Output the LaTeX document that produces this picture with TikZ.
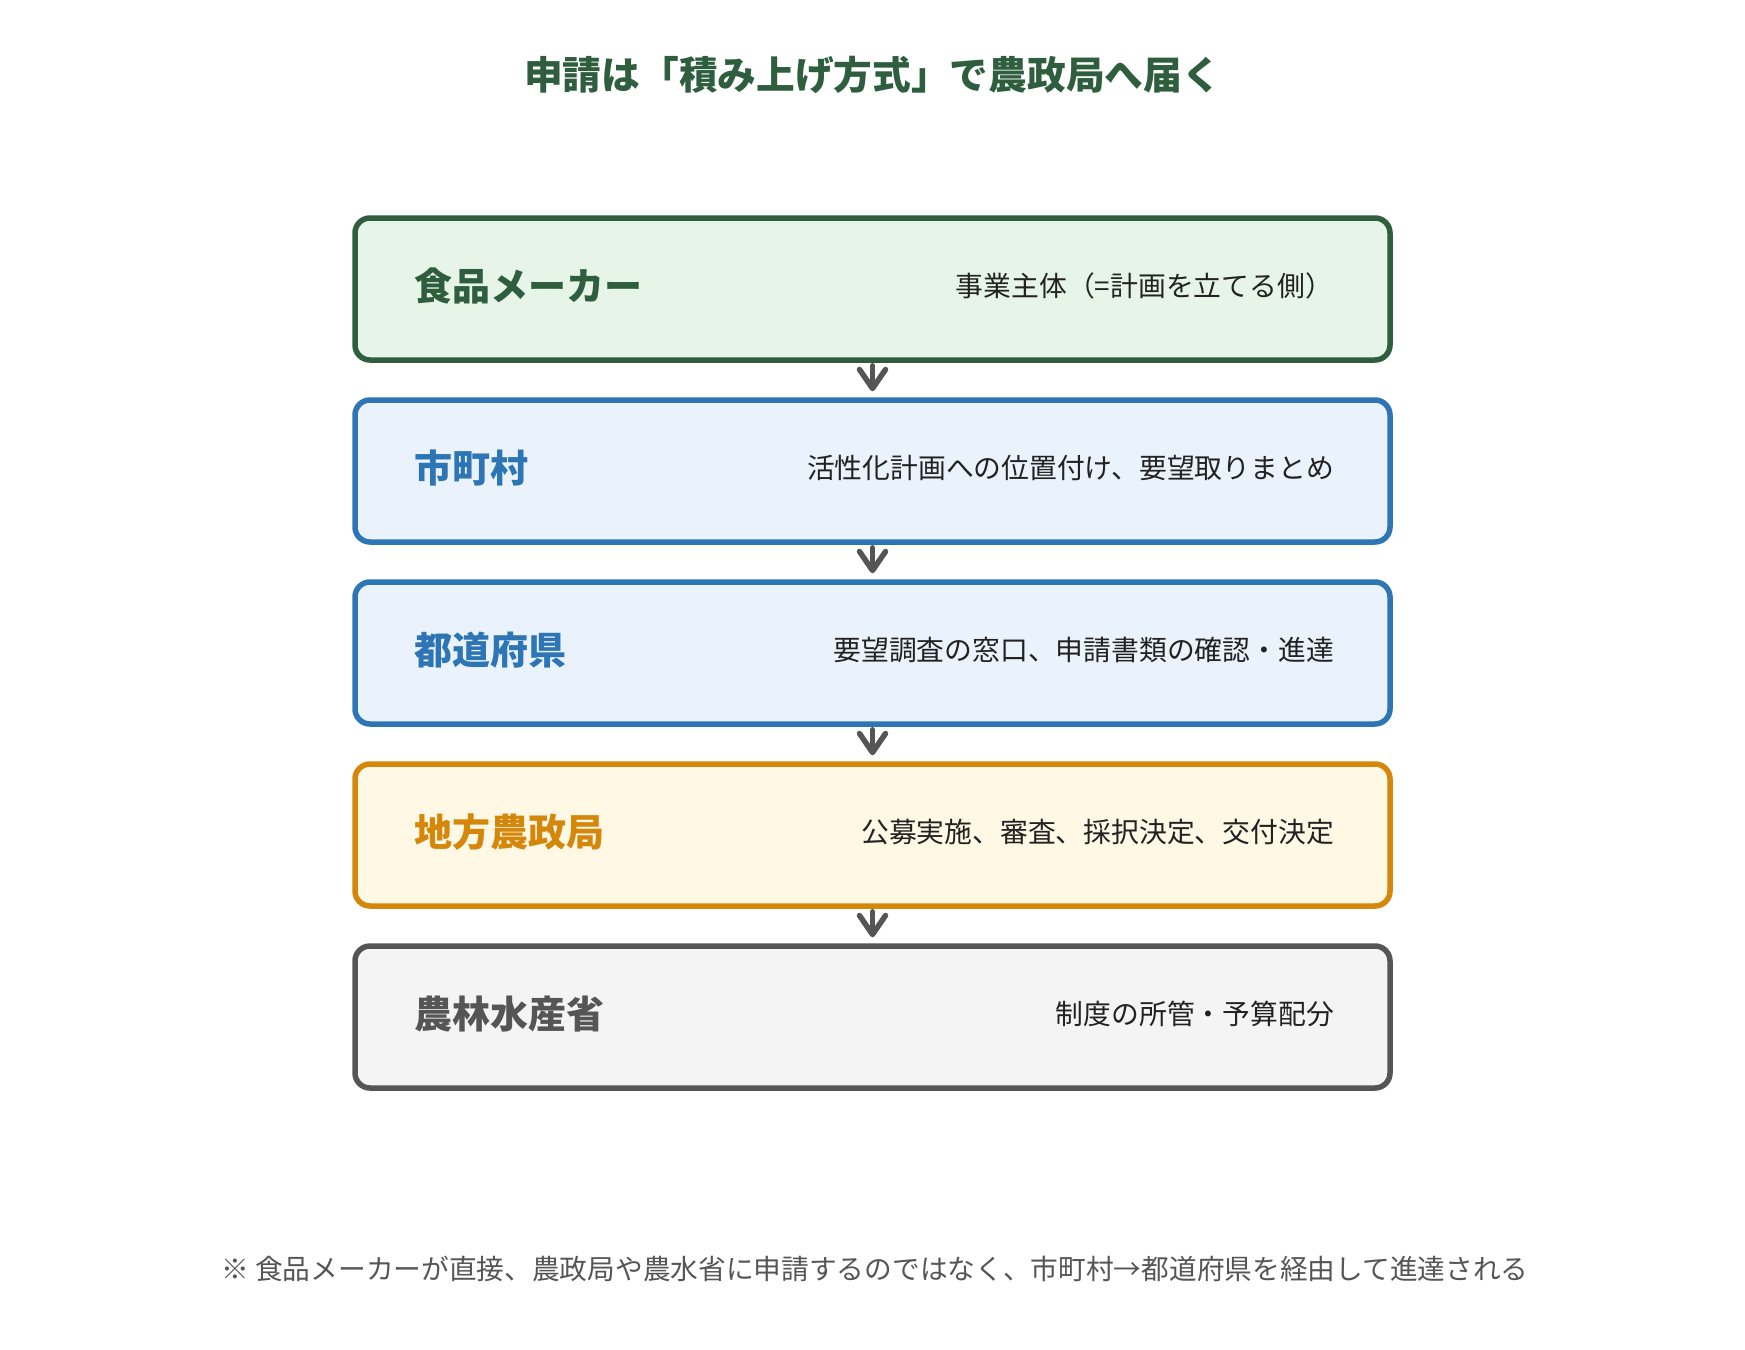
\documentclass[tikz,border=0pt]{standalone}
\usepackage{fontspec}
\setmainfont{Noto Sans CJK JP}
\usetikzlibrary{arrows.meta}
\definecolor{grn}{HTML}{2E5E3E}
\definecolor{grnfill}{HTML}{E7F5E8}
\definecolor{blu}{HTML}{2E75B6}
\definecolor{blufill}{HTML}{EAF3FB}
\definecolor{org}{HTML}{D4870A}
\definecolor{orgfill}{HTML}{FEF8E4}
\definecolor{gry}{HTML}{555555}
\definecolor{gryfill}{HTML}{F4F4F4}
\definecolor{txt}{HTML}{222222}
\begin{document}
\begin{tikzpicture}[x=1pt,y=-1pt]
\useasboundingbox (0,0) rectangle (1745,1349);
\tikzset{
 stage/.style={draw, rounded corners=15pt, line width=5.5pt, minimum width=1035pt, minimum height=142pt, inner sep=0pt},
 lab/.style={anchor=west, inner sep=0pt, font=\fontsize{38}{40}\selectfont\bfseries},
 desc/.style={anchor=east, inner sep=0pt, font=\fontsize{27.8}{30}\selectfont, text=txt},
 flow/.style={draw=gry, line width=5.5pt, line cap=round, line join=round, -{Straight Barb[length=19pt,width=26pt,round]}, shorten <=3pt, shorten >=6pt}
}
\node[font=\fontsize{38.7}{42}\selectfont\bfseries, text=grn] (title) at (872.5,75) {申請は「積み上げ方式」で農政局へ届く};

\node[stage, draw=grn, fill=grnfill] (b1) at (872.5,289) {};
\node[stage, draw=blu, fill=blufill] (b2) at (872.5,471) {};
\node[stage, draw=blu, fill=blufill] (b3) at (872.5,653) {};
\node[stage, draw=org, fill=orgfill] (b4) at (872.5,835) {};
\node[stage, draw=gry, fill=gryfill] (b5) at (872.5,1017) {};

\node[lab, text=grn] (l1) at (414,286) {食品メーカー};
\node[lab, text=blu] (l2) at (414,468) {市町村};
\node[lab, text=blu] (l3) at (414,650) {都道府県};
\node[lab, text=org] (l4) at (414,832) {地方農政局};
\node[lab, text=gry] (l5) at (414,1014) {農林水産省};

\node[desc] (d1) at (1333,286) {事業主体（=計画を立てる側）};
\node[desc] (d2) at (1334,468) {活性化計画への位置付け、要望取りまとめ};
\node[desc] (d3) at (1334,650) {要望調査の窓口、申請書類の確認・進達};
\node[desc] (d4) at (1334,832) {公募実施、審査、採択決定、交付決定};
\node[desc] (d5) at (1334,1014) {制度の所管・予算配分};

\draw[flow] (b1.south) -- (b2.north);
\draw[flow] (b2.south) -- (b3.north);
\draw[flow] (b3.south) -- (b4.north);
\draw[flow] (b4.south) -- (b5.north);

\node[font=\fontsize{27.7}{30}\selectfont, text=gry] (note) at (875,1269) {※ 食品メーカーが直接、農政局や農水省に申請するのではなく、市町村→都道府県を経由して進達される};
\end{tikzpicture}
\end{document}
